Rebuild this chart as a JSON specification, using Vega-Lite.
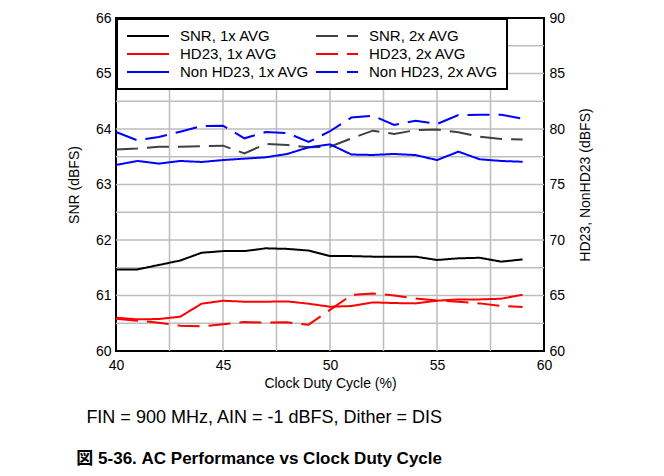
{
  "$schema": "https://vega.github.io/schema/vega-lite/v6.json",
  "width": 428,
  "height": 333,
  "autosize": {"type": "none"},
  "padding": {"left": 116, "top": 18, "right": 120, "bottom": 125},
  "background": "white",
  "config": {
    "font": "Liberation Sans, Arial, Noto Sans CJK JP, sans-serif",
    "view": {"stroke": "black", "strokeWidth": 2},
    "axis": {
      "labelFont": "Liberation Sans, Arial, sans-serif",
      "titleFont": "Liberation Sans, Arial, sans-serif",
      "labelFontSize": 14,
      "titleFontSize": 14,
      "labelColor": "#000000",
      "titleColor": "#000000",
      "titleFontWeight": "normal",
      "domain": false,
      "tickSize": 0,
      "grid": false
    },
    "legend": {
      "labelFont": "Liberation Sans, Arial, sans-serif",
      "labelFontSize": 15,
      "labelColor": "#000000"
    }
  },
  "title": {
    "text": "FIN = 900 MHz, AIN = -1 dBFS, Dither = DIS",
    "subtitle": "図 5-36. AC Performance vs Clock Duty Cycle",
    "orient": "bottom",
    "anchor": "end",
    "frame": "group",
    "dx": -102,
    "offset": 19,
    "font": "Liberation Sans, Arial, sans-serif",
    "fontSize": 18,
    "fontWeight": "normal",
    "color": "#000000",
    "subtitleFont": "Liberation Sans, Noto Sans CJK JP, sans-serif",
    "subtitleFontSize": 17,
    "subtitleFontWeight": "bold",
    "subtitleColor": "#000000",
    "subtitlePadding": 24
  },
  "datasets": {
    "xgrid": [{"g": 42.5}, {"g": 45}, {"g": 47.5}, {"g": 50}, {"g": 52.5}, {"g": 55}, {"g": 57.5}],
    "ygrid": [{"h": 60.5}, {"h": 61}, {"h": 61.5}, {"h": 62}, {"h": 62.5}, {"h": 63}, {"h": 63.5}, {"h": 64}, {"h": 64.5}, {"h": 65}, {"h": 65.5}]
  },
  "data": {
    "values": [
      {"d": 40, "s": "SNR, 1x AVG", "v": 61.47},
      {"d": 41, "s": "SNR, 1x AVG", "v": 61.47},
      {"d": 42, "s": "SNR, 1x AVG", "v": 61.55},
      {"d": 43, "s": "SNR, 1x AVG", "v": 61.63},
      {"d": 44, "s": "SNR, 1x AVG", "v": 61.77},
      {"d": 45, "s": "SNR, 1x AVG", "v": 61.8},
      {"d": 46, "s": "SNR, 1x AVG", "v": 61.8},
      {"d": 47, "s": "SNR, 1x AVG", "v": 61.85},
      {"d": 48, "s": "SNR, 1x AVG", "v": 61.84},
      {"d": 49, "s": "SNR, 1x AVG", "v": 61.81},
      {"d": 50, "s": "SNR, 1x AVG", "v": 61.71},
      {"d": 51, "s": "SNR, 1x AVG", "v": 61.71},
      {"d": 52, "s": "SNR, 1x AVG", "v": 61.7},
      {"d": 53, "s": "SNR, 1x AVG", "v": 61.7},
      {"d": 54, "s": "SNR, 1x AVG", "v": 61.7},
      {"d": 55, "s": "SNR, 1x AVG", "v": 61.64},
      {"d": 56, "s": "SNR, 1x AVG", "v": 61.67},
      {"d": 57, "s": "SNR, 1x AVG", "v": 61.68},
      {"d": 58, "s": "SNR, 1x AVG", "v": 61.61},
      {"d": 59, "s": "SNR, 1x AVG", "v": 61.65},
      {"d": 40, "s": "SNR, 2x AVG", "v": 63.63},
      {"d": 41, "s": "SNR, 2x AVG", "v": 63.65},
      {"d": 42, "s": "SNR, 2x AVG", "v": 63.68},
      {"d": 43, "s": "SNR, 2x AVG", "v": 63.68},
      {"d": 44, "s": "SNR, 2x AVG", "v": 63.69},
      {"d": 45, "s": "SNR, 2x AVG", "v": 63.7},
      {"d": 46, "s": "SNR, 2x AVG", "v": 63.56},
      {"d": 47, "s": "SNR, 2x AVG", "v": 63.73},
      {"d": 48, "s": "SNR, 2x AVG", "v": 63.71},
      {"d": 49, "s": "SNR, 2x AVG", "v": 63.67},
      {"d": 50, "s": "SNR, 2x AVG", "v": 63.68},
      {"d": 51, "s": "SNR, 2x AVG", "v": 63.83},
      {"d": 52, "s": "SNR, 2x AVG", "v": 63.97},
      {"d": 53, "s": "SNR, 2x AVG", "v": 63.91},
      {"d": 54, "s": "SNR, 2x AVG", "v": 63.98},
      {"d": 55, "s": "SNR, 2x AVG", "v": 63.99},
      {"d": 56, "s": "SNR, 2x AVG", "v": 63.94},
      {"d": 57, "s": "SNR, 2x AVG", "v": 63.86},
      {"d": 58, "s": "SNR, 2x AVG", "v": 63.82},
      {"d": 59, "s": "SNR, 2x AVG", "v": 63.81},
      {"d": 40, "s": "HD23, 1x AVG", "v": 63.0},
      {"d": 41, "s": "HD23, 1x AVG", "v": 62.85},
      {"d": 42, "s": "HD23, 1x AVG", "v": 62.88},
      {"d": 43, "s": "HD23, 1x AVG", "v": 63.09},
      {"d": 44, "s": "HD23, 1x AVG", "v": 64.26},
      {"d": 45, "s": "HD23, 1x AVG", "v": 64.53},
      {"d": 46, "s": "HD23, 1x AVG", "v": 64.44},
      {"d": 47, "s": "HD23, 1x AVG", "v": 64.44},
      {"d": 48, "s": "HD23, 1x AVG", "v": 64.47},
      {"d": 49, "s": "HD23, 1x AVG", "v": 64.26},
      {"d": 50, "s": "HD23, 1x AVG", "v": 63.99},
      {"d": 51, "s": "HD23, 1x AVG", "v": 64.05},
      {"d": 52, "s": "HD23, 1x AVG", "v": 64.38},
      {"d": 53, "s": "HD23, 1x AVG", "v": 64.32},
      {"d": 54, "s": "HD23, 1x AVG", "v": 64.29},
      {"d": 55, "s": "HD23, 1x AVG", "v": 64.53},
      {"d": 56, "s": "HD23, 1x AVG", "v": 64.65},
      {"d": 57, "s": "HD23, 1x AVG", "v": 64.65},
      {"d": 58, "s": "HD23, 1x AVG", "v": 64.71},
      {"d": 59, "s": "HD23, 1x AVG", "v": 65.07},
      {"d": 40, "s": "HD23, 2x AVG", "v": 62.91},
      {"d": 41, "s": "HD23, 2x AVG", "v": 62.73},
      {"d": 42, "s": "HD23, 2x AVG", "v": 62.55},
      {"d": 43, "s": "HD23, 2x AVG", "v": 62.28},
      {"d": 44, "s": "HD23, 2x AVG", "v": 62.22},
      {"d": 45, "s": "HD23, 2x AVG", "v": 62.4},
      {"d": 46, "s": "HD23, 2x AVG", "v": 62.61},
      {"d": 47, "s": "HD23, 2x AVG", "v": 62.55},
      {"d": 48, "s": "HD23, 2x AVG", "v": 62.58},
      {"d": 49, "s": "HD23, 2x AVG", "v": 62.37},
      {"d": 50, "s": "HD23, 2x AVG", "v": 63.7},
      {"d": 51, "s": "HD23, 2x AVG", "v": 65.04},
      {"d": 52, "s": "HD23, 2x AVG", "v": 65.19},
      {"d": 53, "s": "HD23, 2x AVG", "v": 65.0},
      {"d": 54, "s": "HD23, 2x AVG", "v": 64.74},
      {"d": 55, "s": "HD23, 2x AVG", "v": 64.56},
      {"d": 56, "s": "HD23, 2x AVG", "v": 64.44},
      {"d": 57, "s": "HD23, 2x AVG", "v": 64.29},
      {"d": 58, "s": "HD23, 2x AVG", "v": 64.05},
      {"d": 59, "s": "HD23, 2x AVG", "v": 63.96},
      {"d": 40, "s": "Non HD23, 1x AVG", "v": 76.76},
      {"d": 41, "s": "Non HD23, 1x AVG", "v": 77.12},
      {"d": 42, "s": "Non HD23, 1x AVG", "v": 76.88},
      {"d": 43, "s": "Non HD23, 1x AVG", "v": 77.12},
      {"d": 44, "s": "Non HD23, 1x AVG", "v": 77.03},
      {"d": 45, "s": "Non HD23, 1x AVG", "v": 77.2},
      {"d": 46, "s": "Non HD23, 1x AVG", "v": 77.33},
      {"d": 47, "s": "Non HD23, 1x AVG", "v": 77.45},
      {"d": 48, "s": "Non HD23, 1x AVG", "v": 77.75},
      {"d": 49, "s": "Non HD23, 1x AVG", "v": 78.35},
      {"d": 50, "s": "Non HD23, 1x AVG", "v": 78.62},
      {"d": 51, "s": "Non HD23, 1x AVG", "v": 77.7},
      {"d": 52, "s": "Non HD23, 1x AVG", "v": 77.66},
      {"d": 53, "s": "Non HD23, 1x AVG", "v": 77.75},
      {"d": 54, "s": "Non HD23, 1x AVG", "v": 77.65},
      {"d": 55, "s": "Non HD23, 1x AVG", "v": 77.2},
      {"d": 56, "s": "Non HD23, 1x AVG", "v": 77.96},
      {"d": 57, "s": "Non HD23, 1x AVG", "v": 77.27},
      {"d": 58, "s": "Non HD23, 1x AVG", "v": 77.12},
      {"d": 59, "s": "Non HD23, 1x AVG", "v": 77.05},
      {"d": 40, "s": "Non HD23, 2x AVG", "v": 79.73},
      {"d": 41, "s": "Non HD23, 2x AVG", "v": 78.98},
      {"d": 42, "s": "Non HD23, 2x AVG", "v": 79.28},
      {"d": 43, "s": "Non HD23, 2x AVG", "v": 79.76},
      {"d": 44, "s": "Non HD23, 2x AVG", "v": 80.27},
      {"d": 45, "s": "Non HD23, 2x AVG", "v": 80.3},
      {"d": 46, "s": "Non HD23, 2x AVG", "v": 79.16},
      {"d": 47, "s": "Non HD23, 2x AVG", "v": 79.73},
      {"d": 48, "s": "Non HD23, 2x AVG", "v": 79.64},
      {"d": 49, "s": "Non HD23, 2x AVG", "v": 78.83},
      {"d": 50, "s": "Non HD23, 2x AVG", "v": 79.8},
      {"d": 51, "s": "Non HD23, 2x AVG", "v": 81.03},
      {"d": 52, "s": "Non HD23, 2x AVG", "v": 81.2},
      {"d": 53, "s": "Non HD23, 2x AVG", "v": 80.36},
      {"d": 54, "s": "Non HD23, 2x AVG", "v": 80.75},
      {"d": 55, "s": "Non HD23, 2x AVG", "v": 80.45},
      {"d": 56, "s": "Non HD23, 2x AVG", "v": 81.26},
      {"d": 57, "s": "Non HD23, 2x AVG", "v": 81.28},
      {"d": 58, "s": "Non HD23, 2x AVG", "v": 81.29},
      {"d": 59, "s": "Non HD23, 2x AVG", "v": 80.93}
    ]
  },
  "layer": [
    {
      "data": {"name": "xgrid"},
      "mark": {"type": "rule", "stroke": "#bdbdbd", "strokeWidth": 1.5},
      "encoding": {
        "x": {
          "field": "g",
          "type": "quantitative",
          "scale": {"domain": [40, 60], "nice": false},
          "axis": {
            "title": "Clock Duty Cycle (%)",
            "values": [40, 45, 50, 55, 60],
            "format": "d",
            "labelPadding": 7,
            "titlePadding": 4,
            "labelFlush": false
          }
        }
      }
    },
    {
      "layer": [
        {
          "data": {"name": "ygrid"},
          "mark": {"type": "rule", "stroke": "#bdbdbd", "strokeWidth": 1.5},
          "encoding": {
            "y": {
              "field": "h",
              "type": "quantitative",
              "scale": {"domain": [60, 66], "nice": false, "zero": false},
              "axis": {
                "orient": "left",
                "title": "SNR (dBFS)",
                "values": [60, 61, 62, 63, 64, 65, 66],
                "format": "d",
                "labelPadding": 5,
                "titlePadding": 14
              }
            }
          }
        },
        {
          "transform": [{"filter": "indexof(datum.s, 'SNR') === 0"}],
          "mark": {"type": "line", "strokeWidth": 2},
          "encoding": {
            "x": {
              "field": "d",
              "type": "quantitative",
              "scale": {"domain": [40, 60], "nice": false},
              "axis": {
                "title": "Clock Duty Cycle (%)",
                "values": [40, 45, 50, 55, 60],
                "format": "d",
                "labelPadding": 7,
                "titlePadding": 4,
                "labelFlush": false
              }
            },
            "y": {
              "field": "v",
              "type": "quantitative",
              "scale": {"domain": [60, 66], "nice": false, "zero": false},
              "axis": {
                "orient": "left",
                "title": "SNR (dBFS)",
                "values": [60, 61, 62, 63, 64, 65, 66],
                "format": "d",
                "labelPadding": 5,
                "titlePadding": 14
              }
            },
            "color": {
              "field": "s",
              "type": "nominal",
              "scale": {
                "domain": ["SNR, 1x AVG", "HD23, 1x AVG", "Non HD23, 1x AVG", "SNR, 2x AVG", "HD23, 2x AVG", "Non HD23, 2x AVG"],
                "range": ["#000000", "#ff0000", "#0000ff", "#404040", "#ff0000", "#0000ff"]
              },
              "legend": {
                "title": null,
                "orient": "top-left",
                "offset": 1,
                "columns": 2,
                "columnPadding": 3,
                "rowPadding": 2,
                "padding": 9,
                "labelOffset": 24,
                "symbolOffset": 14,
                "symbolType": "M-3,0H3",
                "symbolSize": 196,
                "symbolStrokeWidth": 2,
                "fillColor": "white",
                "strokeColor": "black",
                "cornerRadius": 0,
                "encode": {"legend": {"update": {"strokeWidth": {"value": 2}}}}
              }
            },
            "strokeDash": {
              "field": "s",
              "type": "nominal",
              "scale": {
                "domain": ["SNR, 1x AVG", "HD23, 1x AVG", "Non HD23, 1x AVG", "SNR, 2x AVG", "HD23, 2x AVG", "Non HD23, 2x AVG"],
                "range": [[1, 0], [1, 0], [1, 0], [22, 9], [22, 9], [22, 9]]
              },
              "legend": {"title": null}
            }
          }
        }
      ]
    },
    {
      "transform": [{"filter": "indexof(datum.s, 'SNR') !== 0"}],
      "mark": {"type": "line", "strokeWidth": 2},
      "encoding": {
        "x": {
          "field": "d",
          "type": "quantitative",
          "scale": {"domain": [40, 60], "nice": false},
          "axis": {
            "title": "Clock Duty Cycle (%)",
            "values": [40, 45, 50, 55, 60],
            "format": "d",
            "labelPadding": 7,
            "titlePadding": 4,
            "labelFlush": false
          }
        },
        "y": {
          "field": "v",
          "type": "quantitative",
          "scale": {"domain": [60, 90], "nice": false, "zero": false},
          "axis": {
            "orient": "right",
            "title": "HD23, NonHD23 (dBFS)",
            "titleAngle": 270,
            "values": [60, 65, 70, 75, 80, 85, 90],
            "labelPadding": 5,
            "titlePadding": 28
          }
        },
        "color": {
          "field": "s",
          "type": "nominal",
          "scale": {
            "domain": ["SNR, 1x AVG", "HD23, 1x AVG", "Non HD23, 1x AVG", "SNR, 2x AVG", "HD23, 2x AVG", "Non HD23, 2x AVG"],
            "range": ["#000000", "#ff0000", "#0000ff", "#404040", "#ff0000", "#0000ff"]
          },
          "legend": {
            "title": null,
            "orient": "top-left",
            "offset": 1,
            "columns": 2,
            "columnPadding": 3,
            "rowPadding": 2,
            "padding": 9,
            "labelOffset": 24,
            "symbolOffset": 14,
            "symbolType": "M-3,0H3",
            "symbolSize": 196,
            "symbolStrokeWidth": 2,
            "fillColor": "white",
            "strokeColor": "black",
            "cornerRadius": 0,
            "encode": {"legend": {"update": {"strokeWidth": {"value": 2}}}}
          }
        },
        "strokeDash": {
          "field": "s",
          "type": "nominal",
          "scale": {
            "domain": ["SNR, 1x AVG", "HD23, 1x AVG", "Non HD23, 1x AVG", "SNR, 2x AVG", "HD23, 2x AVG", "Non HD23, 2x AVG"],
            "range": [[1, 0], [1, 0], [1, 0], [22, 9], [22, 9], [22, 9]]
          },
          "legend": {"title": null}
        }
      }
    }
  ],
  "resolve": {"scale": {"y": "independent"}}
}
